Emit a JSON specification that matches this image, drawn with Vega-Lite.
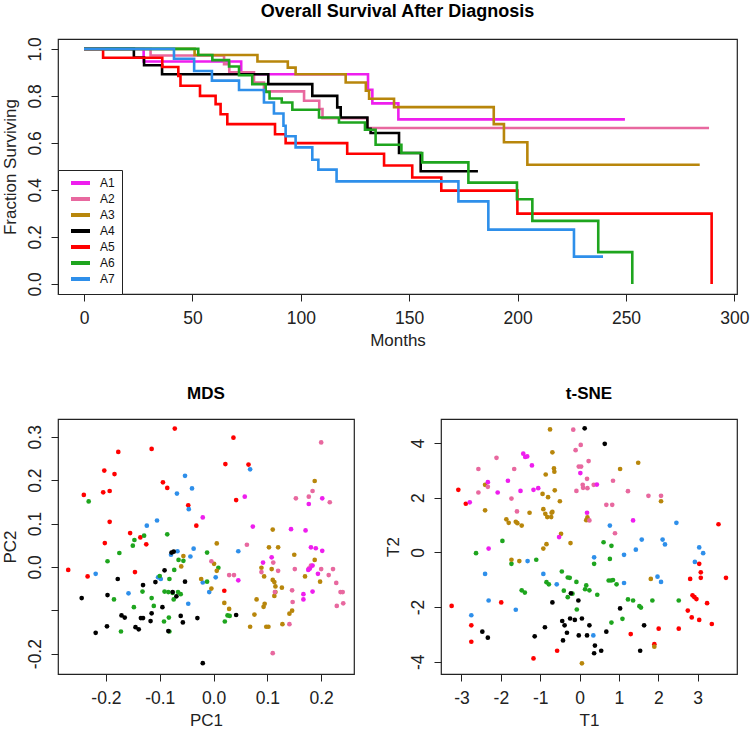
{
"$schema": "https://vega.github.io/schema/vega-lite/v6.json",
"padding": {"left": 0, "top": 2, "right": 4, "bottom": 0},
"config": {
 "font": "Liberation Sans",
 "view": {"stroke": "#222", "strokeWidth": 1.2},
 "axis": {"grid": false, "domain": false, "tickColor": "#222", "tickSize": 7, "labelFontSize": 17.5, "labelColor": "#222", "titleFontSize": 17, "titleFontWeight": "normal", "titleColor": "#222", "labelPadding": 8},
 "axisY": {"labelAngle": -90, "titlePadding": 7, "labelPadding": 7},
 "axisX": {"titlePadding": 6},
 "title": {"fontSize": 17, "fontWeight": "bold", "color": "#000", "baseline": "alphabetic", "offset": 16}
},
"datasets": {
 "surv": [
  {"g":"A1","m":0,"s":1},{"g":"A1","m":27.5,"s":0.946},{"g":"A1","m":72.5,"s":0.892},{"g":"A1","m":131,"s":0.826},{"g":"A1","m":133,"s":0.768},{"g":"A1","m":145,"s":0.70},{"g":"A1","m":249.5,"s":0.70},
  {"g":"A2","m":0,"s":1},{"g":"A2","m":30.7,"s":0.972},{"g":"A2","m":64.6,"s":0.935},{"g":"A2","m":67,"s":0.9},{"g":"A2","m":78.4,"s":0.857},{"g":"A2","m":83,"s":0.819},{"g":"A2","m":101.5,"s":0.779},{"g":"A2","m":108.5,"s":0.744},{"g":"A2","m":110,"s":0.705},{"g":"A2","m":130.7,"s":0.663},{"g":"A2","m":288.3,"s":0.663},
  {"g":"A3","m":0,"s":1},{"g":"A3","m":51,"s":0.974},{"g":"A3","m":80,"s":0.946},{"g":"A3","m":94,"s":0.92},{"g":"A3","m":97.6,"s":0.892},{"g":"A3","m":120.7,"s":0.857},{"g":"A3","m":130,"s":0.822},{"g":"A3","m":131.5,"s":0.788},{"g":"A3","m":143,"s":0.752},{"g":"A3","m":189,"s":0.68},{"g":"A3","m":193.7,"s":0.603},{"g":"A3","m":204.5,"s":0.507},{"g":"A3","m":284,"s":0.507},
  {"g":"A4","m":0,"s":1},{"g":"A4","m":23,"s":0.963},{"g":"A4","m":27.7,"s":0.93},{"g":"A4","m":36,"s":0.892},{"g":"A4","m":85,"s":0.85},{"g":"A4","m":105.3,"s":0.80},{"g":"A4","m":116.8,"s":0.751},{"g":"A4","m":118.4,"s":0.708},{"g":"A4","m":130.7,"s":0.66},{"g":"A4","m":132.2,"s":0.642},{"g":"A4","m":145.3,"s":0.557},{"g":"A4","m":155.3,"s":0.479},{"g":"A4","m":181.7,"s":0.479},
  {"g":"A5","m":0,"s":1},{"g":"A5","m":8.8,"s":0.962},{"g":"A5","m":36.1,"s":0.923},{"g":"A5","m":43.5,"s":0.885},{"g":"A5","m":44.5,"s":0.843},{"g":"A5","m":53.5,"s":0.80},{"g":"A5","m":60.7,"s":0.765},{"g":"A5","m":63,"s":0.722},{"g":"A5","m":66.1,"s":0.68},{"g":"A5","m":88.1,"s":0.637},{"g":"A5","m":93,"s":0.599},{"g":"A5","m":121.4,"s":0.554},{"g":"A5","m":138.4,"s":0.504},{"g":"A5","m":151.4,"s":0.453},{"g":"A5","m":164.8,"s":0.397},{"g":"A5","m":199.9,"s":0.299},{"g":"A5","m":289.5,"s":0.0},
  {"g":"A6","m":0,"s":1},{"g":"A6","m":52.7,"s":0.974},{"g":"A6","m":59.2,"s":0.952},{"g":"A6","m":66.9,"s":0.925},{"g":"A6","m":71.5,"s":0.888},{"g":"A6","m":77.6,"s":0.85},{"g":"A6","m":83.8,"s":0.817},{"g":"A6","m":85.6,"s":0.789},{"g":"A6","m":91.2,"s":0.772},{"g":"A6","m":96.1,"s":0.741},{"g":"A6","m":108.4,"s":0.708},{"g":"A6","m":117.6,"s":0.687},{"g":"A6","m":129.6,"s":0.656},{"g":"A6","m":134.5,"s":0.592},{"g":"A6","m":146.4,"s":0.557},{"g":"A6","m":156,"s":0.517},{"g":"A6","m":177.3,"s":0.431},{"g":"A6","m":199.7,"s":0.36},{"g":"A6","m":206.8,"s":0.268},{"g":"A6","m":237.2,"s":0.135},{"g":"A6","m":252.9,"s":0.0},
  {"g":"A7","m":0,"s":1},{"g":"A7","m":41.5,"s":0.958},{"g":"A7","m":50.8,"s":0.906},{"g":"A7","m":59,"s":0.865},{"g":"A7","m":71.5,"s":0.825},{"g":"A7","m":83,"s":0.772},{"g":"A7","m":87.6,"s":0.725},{"g":"A7","m":92,"s":0.673},{"g":"A7","m":93,"s":0.628},{"g":"A7","m":97.6,"s":0.581},{"g":"A7","m":105.3,"s":0.528},{"g":"A7","m":108.1,"s":0.486},{"g":"A7","m":116.5,"s":0.436},{"g":"A7","m":172.7,"s":0.351},{"g":"A7","m":186.5,"s":0.231},{"g":"A7","m":226,"s":0.116},{"g":"A7","m":239.4,"s":0.116}
 ],
 "mds": [
  {"g":"A5","x":-0.270,"y":-0.007},{"g":"A5","x":-0.241,"y":0.166},{"g":"A5","x":-0.234,"y":-0.022},{"g":"A5","x":-0.203,"y":0.222},{"g":"A5","x":-0.184,"y":0.214},{"g":"A5","x":-0.177,"y":0.265},{"g":"A5","x":-0.205,"y":0.172},{"g":"A5","x":-0.193,"y":0.175},{"g":"A5","x":-0.193,"y":0.104},{"g":"A5","x":-0.202,"y":0.055},{"g":"A5","x":-0.155,"y":0.078},{"g":"A5","x":-0.136,"y":0.068},{"g":"A5","x":-0.125,"y":0.052},{"g":"A5","x":-0.146,"y":-0.012},{"g":"A5","x":-0.115,"y":0.272},{"g":"A5","x":-0.094,"y":0.195},{"g":"A5","x":-0.086,"y":0.182},{"g":"A5","x":-0.072,"y":0.319},{"g":"A5","x":-0.047,"y":0.142},{"g":"A5","x":-0.032,"y":0.095},{"g":"A5","x":0.022,"y":0.237},{"g":"A5","x":0.037,"y":0.298},{"g":"A5","x":0.042,"y":0.154},{"g":"A5","x":0.065,"y":0.236},{"g":"A5","x":0.020,"y":-0.055},
  {"g":"A7","x":-0.053,"y":0.210},{"g":"A7","x":-0.040,"y":0.181},{"g":"A7","x":-0.068,"y":0.169},{"g":"A7","x":-0.046,"y":0.133},{"g":"A7","x":-0.105,"y":0.107},{"g":"A7","x":-0.124,"y":0.095},{"g":"A7","x":0.068,"y":0.225},{"g":"A7","x":-0.219,"y":-0.016},{"g":"A7","x":-0.158,"y":-0.061},{"g":"A7","x":-0.103,"y":-0.024},{"g":"A7","x":-0.098,"y":-0.028},{"g":"A7","x":-0.079,"y":0.028},{"g":"A7","x":-0.067,"y":0.036},{"g":"A7","x":-0.037,"y":0.042},{"g":"A7","x":-0.043,"y":0.024},{"g":"A7","x":-0.047,"y":-0.085},{"g":"A7","x":-0.020,"y":-0.036},{"g":"A7","x":0.004,"y":-0.024},{"g":"A7","x":-0.008,"y":-0.058},{"g":"A7","x":0.046,"y":0.036},
  {"g":"A6","x":-0.232,"y":0.151},{"g":"A6","x":-0.175,"y":0.032},{"g":"A6","x":-0.197,"y":0.013},{"g":"A6","x":-0.150,"y":0.049},{"g":"A6","x":-0.147,"y":0.062},{"g":"A6","x":-0.129,"y":0.072},{"g":"A6","x":-0.086,"y":0.075},{"g":"A6","x":-0.185,"y":-0.075},{"g":"A6","x":-0.172,"y":-0.149},{"g":"A6","x":-0.148,"y":-0.093},{"g":"A6","x":-0.132,"y":-0.057},{"g":"A6","x":-0.115,"y":-0.072},{"g":"A6","x":-0.111,"y":-0.090},{"g":"A6","x":-0.100,"y":-0.021},{"g":"A6","x":-0.082,"y":-0.028},{"g":"A6","x":-0.091,"y":-0.057},{"g":"A6","x":-0.084,"y":-0.058},{"g":"A6","x":-0.076,"y":-0.060},{"g":"A6","x":-0.073,"y":-0.007},{"g":"A6","x":-0.065,"y":0.016},{"g":"A6","x":-0.056,"y":0.014},{"g":"A6","x":-0.074,"y":-0.075},{"g":"A6","x":-0.066,"y":-0.058},{"g":"A6","x":-0.061,"y":-0.063},{"g":"A6","x":-0.083,"y":-0.117},{"g":"A6","x":-0.092,"y":-0.126},{"g":"A6","x":-0.082,"y":-0.149},{"g":"A6","x":-0.012,"y":0.033},{"g":"A6","x":-0.012,"y":-0.034},{"g":"A6","x":0.009,"y":-0.002},{"g":"A6","x":0.021,"y":-0.126},{"g":"A6","x":0.026,"y":-0.112},{"g":"A6","x":0.030,"y":-0.113},
  {"g":"A4","x":-0.245,"y":-0.072},{"g":"A4","x":-0.219,"y":-0.152},{"g":"A4","x":-0.198,"y":-0.137},{"g":"A4","x":-0.197,"y":-0.065},{"g":"A4","x":-0.178,"y":-0.028},{"g":"A4","x":-0.171,"y":-0.112},{"g":"A4","x":-0.165,"y":-0.117},{"g":"A4","x":-0.145,"y":-0.139},{"g":"A4","x":-0.139,"y":-0.144},{"g":"A4","x":-0.135,"y":-0.118},{"g":"A4","x":-0.131,"y":-0.042},{"g":"A4","x":-0.131,"y":-0.118},{"g":"A4","x":-0.117,"y":-0.125},{"g":"A4","x":-0.115,"y":-0.107},{"g":"A4","x":-0.108,"y":-0.035},{"g":"A4","x":-0.095,"y":-0.093},{"g":"A4","x":-0.091,"y":-0.008},{"g":"A4","x":-0.078,"y":0.033},{"g":"A4","x":-0.074,"y":0.035},{"g":"A4","x":-0.076,"y":-0.058},{"g":"A4","x":-0.069,"y":-0.068},{"g":"A4","x":-0.061,"y":-0.113},{"g":"A4","x":-0.057,"y":-0.128},{"g":"A4","x":-0.053,"y":-0.034},{"g":"A4","x":-0.030,"y":-0.118},{"g":"A4","x":-0.020,"y":-0.222},{"g":"A4","x":0.042,"y":-0.111},{"g":"A4","x":-0.084,"y":-0.148},
  {"g":"A3","x":-0.056,"y":0.025},{"g":"A3","x":-0.060,"y":0.001},{"g":"A3","x":-0.023,"y":-0.028},{"g":"A3","x":-0.004,"y":-0.050},{"g":"A3","x":0.006,"y":0.054},{"g":"A3","x":0.001,"y":0.007},{"g":"A3","x":0.006,"y":-0.009},{"g":"A3","x":0.020,"y":-0.083},{"g":"A3","x":0.029,"y":-0.097},{"g":"A3","x":0.068,"y":-0.138},{"g":"A3","x":0.076,"y":-0.110},{"g":"A3","x":0.080,"y":-0.075},{"g":"A3","x":0.089,"y":-0.002},{"g":"A3","x":0.094,"y":-0.022},{"g":"A3","x":0.093,"y":-0.092},{"g":"A3","x":0.095,"y":-0.085},{"g":"A3","x":0.098,"y":-0.138},{"g":"A3","x":0.102,"y":-0.138},{"g":"A3","x":0.103,"y":0.045},{"g":"A3","x":0.110,"y":0.086},{"g":"A3","x":0.108,"y":-0.005},{"g":"A3","x":0.110,"y":-0.030},{"g":"A3","x":0.113,"y":-0.035},{"g":"A3","x":0.115,"y":-0.045},{"g":"A3","x":0.115,"y":-0.058},{"g":"A3","x":0.113,"y":-0.067},{"g":"A3","x":0.120,"y":0.045},{"g":"A3","x":0.127,"y":-0.048},{"g":"A3","x":0.128,"y":-0.132},{"g":"A3","x":0.141,"y":-0.108},{"g":"A3","x":0.146,"y":-0.101},{"g":"A3","x":0.150,"y":0.028},{"g":"A3","x":0.170,"y":-0.022},{"g":"A3","x":0.188,"y":0.198},{"g":"A3","x":0.188,"y":0.016},{"g":"A3","x":0.198,"y":-0.034},
  {"g":"A2","x":-0.004,"y":0.013},{"g":"A2","x":0.029,"y":-0.019},{"g":"A2","x":0.038,"y":-0.019},{"g":"A2","x":0.062,"y":0.051},{"g":"A2","x":0.089,"y":-0.012},{"g":"A2","x":0.114,"y":-0.058},{"g":"A2","x":0.111,"y":0.010},{"g":"A2","x":0.120,"y":-0.009},{"g":"A2","x":0.110,"y":-0.199},{"g":"A2","x":0.146,"y":-0.054},{"g":"A2","x":0.147,"y":-0.081},{"g":"A2","x":0.151,"y":-0.005},{"g":"A2","x":0.153,"y":0.158},{"g":"A2","x":0.141,"y":-0.132},{"g":"A2","x":0.177,"y":0.162},{"g":"A2","x":0.184,"y":0.175},{"g":"A2","x":0.177,"y":-0.004},{"g":"A2","x":0.181,"y":0.003},{"g":"A2","x":0.200,"y":0.287},{"g":"A2","x":0.200,"y":-0.005},{"g":"A2","x":0.216,"y":0.149},{"g":"A2","x":0.214,"y":-0.019},{"g":"A2","x":0.222,"y":-0.005},{"g":"A2","x":0.228,"y":-0.037},{"g":"A2","x":0.229,"y":-0.090},{"g":"A2","x":0.236,"y":-0.058},{"g":"A2","x":0.240,"y":-0.058},{"g":"A2","x":0.241,"y":-0.084},
  {"g":"A1","x":-0.020,"y":0.114},{"g":"A1","x":0.058,"y":0.162},{"g":"A1","x":0.073,"y":0.093},{"g":"A1","x":0.046,"y":-0.031},{"g":"A1","x":0.092,"y":0.010},{"g":"A1","x":0.108,"y":0.022},{"g":"A1","x":0.144,"y":0.087},{"g":"A1","x":0.171,"y":0.084},{"g":"A1","x":0.177,"y":0.145},{"g":"A1","x":0.202,"y":0.158},{"g":"A1","x":0.181,"y":0.045},{"g":"A1","x":0.190,"y":0.043},{"g":"A1","x":0.202,"y":0.037},{"g":"A1","x":0.167,"y":-0.063},{"g":"A1","x":0.167,"y":-0.075},{"g":"A1","x":0.184,"y":-0.057},{"g":"A1","x":0.194,"y":-0.016},{"g":"A1","x":0.184,"y":0.003},{"g":"A1","x":0.179,"y":-0.004},{"g":"A1","x":0.176,"y":-0.007}
 ],
 "tsne": [
  {"g":"A5","x":-3.08,"y":2.29},{"g":"A5","x":-2.89,"y":1.78},{"g":"A5","x":-3.25,"y":-1.96},{"g":"A5","x":-2.75,"y":-2.67},{"g":"A5","x":-2.75,"y":-3.27},{"g":"A5","x":-1.99,"y":-1.83},{"g":"A5","x":-1.17,"y":-3.88},{"g":"A5","x":-0.57,"y":-3.60},{"g":"A5","x":1.30,"y":-2.99},{"g":"A5","x":1.90,"y":-3.36},{"g":"A5","x":2.01,"y":-2.79},{"g":"A5","x":2.52,"y":-2.79},{"g":"A5","x":2.75,"y":-2.13},{"g":"A5","x":2.81,"y":-0.97},{"g":"A5","x":2.85,"y":-2.38},{"g":"A5","x":2.87,"y":-1.57},{"g":"A5","x":2.92,"y":-1.64},{"g":"A5","x":2.97,"y":-1.71},{"g":"A5","x":3.04,"y":-0.42},{"g":"A5","x":3.08,"y":-0.73},{"g":"A5","x":3.08,"y":-0.93},{"g":"A5","x":3.04,"y":-2.47},{"g":"A5","x":3.24,"y":-1.86},{"g":"A5","x":3.36,"y":-2.62},{"g":"A5","x":3.53,"y":1.03},{"g":"A5","x":3.72,"y":-0.93},
  {"g":"A7","x":-2.75,"y":-2.30},{"g":"A7","x":-2.40,"y":-0.79},{"g":"A7","x":-2.31,"y":-1.76},{"g":"A7","x":-1.62,"y":-2.10},{"g":"A7","x":-1.32,"y":-0.32},{"g":"A7","x":-0.92,"y":-0.79},{"g":"A7","x":-0.58,"y":-1.17},{"g":"A7","x":0.37,"y":-0.18},{"g":"A7","x":0.35,"y":-3.04},{"g":"A7","x":0.77,"y":0.98},{"g":"A7","x":1.13,"y":-0.09},{"g":"A7","x":1.13,"y":-1.12},{"g":"A7","x":1.43,"y":0.10},{"g":"A7","x":1.58,"y":0.47},{"g":"A7","x":1.98,"y":-0.89},{"g":"A7","x":2.07,"y":-1.08},{"g":"A7","x":2.11,"y":0.47},{"g":"A7","x":2.17,"y":0.29},{"g":"A7","x":2.46,"y":1.08},{"g":"A7","x":2.93,"y":-0.35},{"g":"A7","x":3.04,"y":0.18},{"g":"A7","x":3.14,"y":-0.03},
  {"g":"A6","x":-2.63,"y":-0.03},{"g":"A6","x":-1.96,"y":0.42},{"g":"A6","x":-1.73,"y":-0.42},{"g":"A6","x":-1.47,"y":-1.39},{"g":"A6","x":-1.39,"y":-1.47},{"g":"A6","x":-1.10,"y":-0.27},{"g":"A6","x":-0.84,"y":-1.09},{"g":"A6","x":-0.78,"y":-1.17},{"g":"A6","x":-0.45,"y":-0.70},{"g":"A6","x":-0.40,"y":-1.40},{"g":"A6","x":-0.30,"y":-0.92},{"g":"A6","x":-0.25,"y":-0.93},{"g":"A6","x":-0.30,"y":-1.64},{"g":"A6","x":-0.18,"y":-1.51},{"g":"A6","x":-0.08,"y":-1.08},{"g":"A6","x":-0.07,"y":-2.09},{"g":"A6","x":0.14,"y":-1.35},{"g":"A6","x":0.17,"y":-1.21},{"g":"A6","x":0.25,"y":-1.39},{"g":"A6","x":0.45,"y":-1.55},{"g":"A6","x":0.37,"y":-0.42},{"g":"A6","x":0.61,"y":0.37},{"g":"A6","x":0.77,"y":-0.24},{"g":"A6","x":0.81,"y":0.24},{"g":"A6","x":0.74,"y":-1.03},{"g":"A6","x":0.80,"y":-1.03},{"g":"A6","x":0.85,"y":-1.01},{"g":"A6","x":0.94,"y":-1.17},{"g":"A6","x":0.81,"y":-2.57},{"g":"A6","x":1.09,"y":-2.43},{"g":"A6","x":1.23,"y":-1.72},{"g":"A6","x":1.36,"y":-1.76},{"g":"A6","x":1.52,"y":-1.97},{"g":"A6","x":1.56,"y":-2.02},{"g":"A6","x":1.85,"y":-1.76},{"g":"A6","x":2.52,"y":-1.76},
  {"g":"A4","x":-2.47,"y":-2.90},{"g":"A4","x":-2.33,"y":-3.12},{"g":"A4","x":-1.14,"y":-3.07},{"g":"A4","x":-0.88,"y":-2.74},{"g":"A4","x":-0.69,"y":-1.83},{"g":"A4","x":-0.42,"y":-3.22},{"g":"A4","x":-0.44,"y":-2.51},{"g":"A4","x":-0.38,"y":-2.67},{"g":"A4","x":-0.32,"y":-2.94},{"g":"A4","x":-0.24,"y":-2.42},{"g":"A4","x":-0.22,"y":-1.50},{"g":"A4","x":-0.12,"y":-2.47},{"g":"A4","x":-0.03,"y":-1.76},{"g":"A4","x":-0.02,"y":-3.04},{"g":"A4","x":0.06,"y":-2.42},{"g":"A4","x":0.13,"y":4.54},{"g":"A4","x":0.19,"y":-3.04},{"g":"A4","x":0.25,"y":-2.67},{"g":"A4","x":0.39,"y":-3.41},{"g":"A4","x":0.37,"y":-3.69},{"g":"A4","x":0.55,"y":-3.60},{"g":"A4","x":0.64,"y":3.97},{"g":"A4","x":0.68,"y":-2.90},{"g":"A4","x":1.03,"y":-2.05},{"g":"A4","x":1.64,"y":-2.67},{"g":"A4","x":1.54,"y":-3.60},
  {"g":"A3","x":-2.40,"y":2.47},{"g":"A3","x":-2.40,"y":1.54},{"g":"A3","x":-1.86,"y":1.21},{"g":"A3","x":-1.80,"y":1.08},{"g":"A3","x":-1.62,"y":1.12},{"g":"A3","x":-1.58,"y":1.07},{"g":"A3","x":-1.47,"y":0.98},{"g":"A3","x":-1.73,"y":-0.27},{"g":"A3","x":-1.53,"y":-0.32},{"g":"A3","x":-1.27,"y":1.45},{"g":"A3","x":-0.94,"y":2.14},{"g":"A3","x":-0.86,"y":2.85},{"g":"A3","x":-0.92,"y":1.58},{"g":"A3","x":-0.87,"y":1.41},{"g":"A3","x":-0.82,"y":1.29},{"g":"A3","x":-0.71,"y":1.45},{"g":"A3","x":-0.72,"y":1.29},{"g":"A3","x":-0.69,"y":1.48},{"g":"A3","x":-0.80,"y":2.02},{"g":"A3","x":-0.75,"y":4.50},{"g":"A3","x":-0.69,"y":3.66},{"g":"A3","x":-0.64,"y":2.95},{"g":"A3","x":-0.65,"y":3.07},{"g":"A3","x":-0.63,"y":2.27},{"g":"A3","x":-0.50,"y":1.87},{"g":"A3","x":-0.47,"y":0.68},{"g":"A3","x":-0.92,"y":0.14},{"g":"A3","x":-0.84,"y":0.30},{"g":"A3","x":-0.23,"y":0.34},{"g":"A3","x":0.17,"y":1.18},{"g":"A3","x":0.20,"y":1.28},{"g":"A3","x":1.03,"y":3.05},{"g":"A3","x":1.49,"y":3.28},{"g":"A3","x":1.81,"y":-0.97},{"g":"A3","x":2.07,"y":1.87},{"g":"A3","x":1.90,"y":-3.45},{"g":"A3","x":0.06,"y":-4.06},
  {"g":"A2","x":-2.57,"y":3.05},{"g":"A2","x":-2.57,"y":2.19},{"g":"A2","x":-2.33,"y":2.40},{"g":"A2","x":-2.11,"y":3.46},{"g":"A2","x":-1.73,"y":1.97},{"g":"A2","x":-1.66,"y":3.05},{"g":"A2","x":-1.59,"y":1.50},{"g":"A2","x":-0.16,"y":4.49},{"g":"A2","x":-0.10,"y":3.74},{"g":"A2","x":0.03,"y":3.93},{"g":"A2","x":-0.08,"y":2.25},{"g":"A2","x":-0.02,"y":3.14},{"g":"A2","x":0.04,"y":3.14},{"g":"A2","x":0.08,"y":2.47},{"g":"A2","x":0.09,"y":2.36},{"g":"A2","x":0.20,"y":2.35},{"g":"A2","x":0.23,"y":3.34},{"g":"A2","x":0.19,"y":2.69},{"g":"A2","x":0.25,"y":1.17},{"g":"A2","x":0.36,"y":2.47},{"g":"A2","x":0.68,"y":1.74},{"g":"A2","x":0.83,"y":1.74},{"g":"A2","x":0.85,"y":2.62},{"g":"A2","x":0.90,"y":0.70},{"g":"A2","x":1.23,"y":2.24},{"g":"A2","x":1.75,"y":2.07},{"g":"A2","x":2.07,"y":2.07},
  {"g":"A1","x":-2.79,"y":1.83},{"g":"A1","x":-2.33,"y":2.57},{"g":"A1","x":-2.31,"y":0.14},{"g":"A1","x":-2.08,"y":2.19},{"g":"A1","x":-1.82,"y":2.62},{"g":"A1","x":-1.50,"y":2.25},{"g":"A1","x":-1.43,"y":3.61},{"g":"A1","x":-1.38,"y":3.49},{"g":"A1","x":-1.33,"y":3.51},{"g":"A1","x":-1.21,"y":3.18},{"g":"A1","x":-1.17,"y":2.29},{"g":"A1","x":-1.05,"y":2.35},{"g":"A1","x":-0.52,"y":0.56},{"g":"A1","x":0.02,"y":2.90},{"g":"A1","x":0.19,"y":1.45},{"g":"A1","x":0.44,"y":2.48},{"g":"A1","x":1.36,"y":1.17}
 ]
},
"spacing": 125,
"bounds": "flush",
"resolve": {"scale": {"color": "independent"}},
"vconcat": [
 {
  "width": 679, "height": 255,
  "title": {"text": "Overall Survival After Diagnosis", "fontSize": 18},
  "data": {"name": "surv"},
  "mark": {"type": "line", "interpolate": "step-after", "strokeWidth": 2.6},
  "encoding": {
   "x": {"field": "m", "type": "quantitative", "scale": {"domain": [-12, 301.2], "nice": false, "zero": false}, "axis": {"values": [0, 50, 100, 150, 200, 250, 300], "title": "Months"}},
   "y": {"field": "s", "type": "quantitative", "scale": {"domain": [-0.043, 1.042], "nice": false, "zero": false}, "axis": {"values": [0, 0.2, 0.4, 0.6, 0.8, 1.0], "format": ".1f", "title": "Fraction Surviving"}},
   "color": {"field": "g", "type": "nominal", "scale": {"domain": ["A1","A2","A3","A4","A5","A6","A7"], "range": ["#EE1EEE","#E8689F","#B8860B","#000000","#FF0000","#1EA51E","#2E8FEA"]},
    "legend": {"title": null, "orient": "bottom-left", "offset": 0, "symbolType": "M0,0H4.75", "symbolStrokeWidth": 4, "symbolSize": 64, "labelFontSize": 12, "labelColor": "#111", "strokeColor": "#222", "fillColor": "white", "padding": 7, "rowPadding": 0, "labelOffset": 23, "cornerRadius": 0}}
  }
 },
 {
  "hconcat": [
   {
    "width": 296, "height": 255,
    "title": "MDS",
    "data": {"name": "mds"},
    "mark": {"type": "circle", "size": 22, "opacity": 1},
    "encoding": {
     "x": {"field": "x", "type": "quantitative", "scale": {"domain": [-0.289, 0.261], "nice": false, "zero": false}, "axis": {"values": [-0.2, -0.1, 0, 0.1, 0.2], "labelExpr": "replace(format(datum.value, '.1f'), '\u2212', '-')", "title": "PC1"}},
     "y": {"field": "y", "type": "quantitative", "scale": {"domain": [-0.247, 0.341], "nice": false, "zero": false}, "axis": {"values": [-0.2, -0.1, 0, 0.1, 0.2, 0.3], "labelExpr": "abs(datum.value + 0.1) < 0.01 ? '' : replace(format(datum.value, '.1f'), '\u2212', '-')", "title": "PC2"}},
     "color": {"field": "g", "type": "nominal", "scale": {"domain": ["A1","A2","A3","A4","A5","A6","A7"], "range": ["#EE1EEE","#E8689F","#B8860B","#000000","#FF0000","#1EA51E","#2E8FEA"]}, "legend": null}
    }
   },
   {
    "width": 296, "height": 255,
    "title": "t-SNE",
    "data": {"name": "tsne"},
    "mark": {"type": "circle", "size": 22, "opacity": 1},
    "encoding": {
     "x": {"field": "x", "type": "quantitative", "scale": {"domain": [-3.52, 4.0], "nice": false, "zero": false}, "axis": {"values": [-3, -2, -1, 0, 1, 2, 3], "labelExpr": "replace(format(datum.value, 'd'), '\u2212', '-')", "title": "T1"}},
     "y": {"field": "y", "type": "quantitative", "scale": {"domain": [-4.45, 4.88], "nice": false, "zero": false}, "axis": {"values": [-4, -2, 0, 2, 4], "labelExpr": "replace(format(datum.value, 'd'), '\u2212', '-')", "title": "T2"}},
     "color": {"field": "g", "type": "nominal", "scale": {"domain": ["A1","A2","A3","A4","A5","A6","A7"], "range": ["#EE1EEE","#E8689F","#B8860B","#000000","#FF0000","#1EA51E","#2E8FEA"]}, "legend": null}
    }
   }
  ],
  "spacing": 87,
  "bounds": "flush",
  "resolve": {"scale": {"color": "independent"}}
 }
]
}
